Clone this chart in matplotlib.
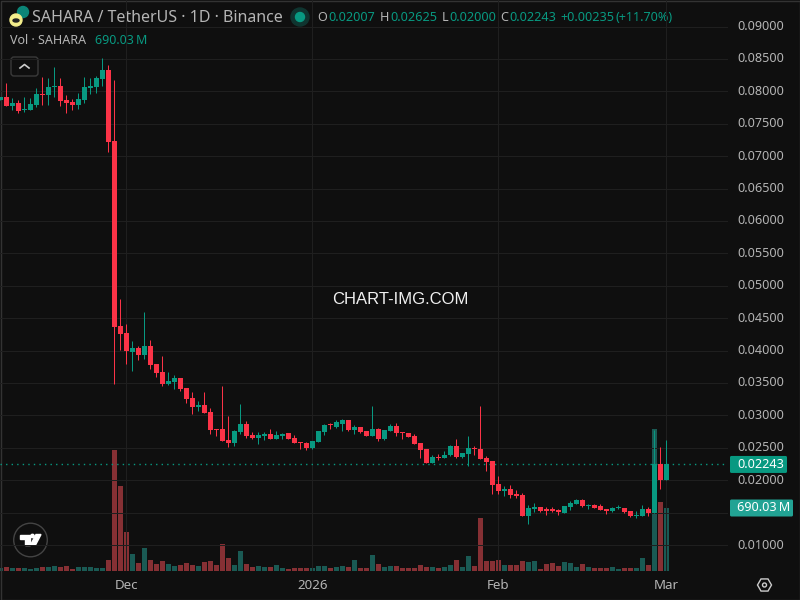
import matplotlib
matplotlib.use('Agg')
import matplotlib.pyplot as plt
from matplotlib.patches import Circle, Ellipse, FancyBboxPatch, Polygon, Rectangle, RegularPolygon
import numpy as np
import pandas as pd

plt.rcParams['font.family'] = ['Noto Sans', 'DejaVu Sans']

# daily candles, 10 Nov 2025 to 1 Mar 2026
dates = pd.date_range('2025-11-10', periods=112)

opens = [
    .07866, .07913, .07774, .07820, .07712, .07712, .07789, .07959, .07944, .08067, .08082, .07866, .07835, .07789,
    .07866, .08052, .08067, .08190, .08329, .07234, .04379, .04271, .03978, .04040, .03932, .04071, .03793, .03669,
    .03484, .03515, .03577, .03423, .03268, .03129, .03160, .03052, .02790, .02790, .02620, .02574, .02744, .02867,
    .02697, .02651, .02682, .02713, .02636, .02682, .02728, .02651, .02589, .02574, .02497, .02589, .02744, .02867,
    .02821, .02867, .02929, .02774, .02821, .02759, .02682, .02790, .02636, .02759, .02836, .02744, .02728, .02682,
    .02574, .02481, .02265, .02358, .02342, .02389, .02528, .02358, .02404, .02497, .02481, .02342, .02296, .01941,
    .01833, .01864, .01787, .01772, .01447, .01555, .01586, .01555, .01555, .01540, .01494, .01586, .01633, .01694,
    .01602, .01617, .01602, .01555, .01525, .01571, .01571, .01525, .01447, .01447, .01555, .01494, .02250, .02007,
]
highs = [
    .07913, .08129, .07897, .07866, .07913, .07897, .08052, .08221, .08206, .08376, .08206, .07944, .07882, .07974,
    .08221, .08206, .08237, .08514, .08406, .08175, .04796, .04410, .04148, .04071, .04595, .04163, .03793, .03916,
    .03669, .03623, .03577, .03423, .03361, .03222, .03361, .03114, .02790, .03453, .02990, .02774, .03176, .02913,
    .02744, .02744, .02744, .02790, .02759, .02728, .02728, .02697, .02589, .02589, .02605, .02759, .02867, .02882,
    .02929, .02944, .02929, .02852, .02821, .02759, .03145, .02805, .02774, .02867, .02882, .02744, .02728, .02713,
    .02574, .02481, .02389, .02404, .02450, .02543, .02636, .02420, .02682, .02528, .03145, .02373, .02296, .02065,
    .01910, .01926, .01849, .01802, .01617, .01648, .01586, .01586, .01586, .01555, .01602, .01679, .01710, .01710,
    .01633, .01633, .01633, .01555, .01586, .01617, .01571, .01525, .01525, .01617, .01586, .02774, .02512, .02625,
]
lows = [
    .07866, .07774, .07712, .07666, .07681, .07712, .07758, .07789, .07789, .07913, .07774, .07666, .07712, .07727,
    .07820, .07959, .07974, .08082, .07064, .03484, .04009, .03793, .03685, .03855, .03870, .03716, .03592, .03453,
    .03469, .03407, .03376, .03191, .03021, .03068, .03037, .02713, .02682, .02605, .02512, .02528, .02713, .02651,
    .02636, .02558, .02620, .02636, .02636, .02636, .02636, .02574, .02481, .02466, .02481, .02589, .02697, .02790,
    .02805, .02759, .02759, .02713, .02728, .02682, .02682, .02605, .02620, .02759, .02682, .02636, .02666, .02558,
    .02342, .02265, .02265, .02312, .02342, .02373, .02342, .02342, .02219, .02389, .02327, .02142, .01787, .01787,
    .01756, .01725, .01725, .01447, .01324, .01509, .01509, .01463, .01509, .01463, .01494, .01540, .01633, .01586,
    .01555, .01571, .01540, .01478, .01509, .01555, .01494, .01432, .01417, .01447, .01447, .01494, .01864, .02000,
]
closes = [
    .07913, .07774, .07820, .07697, .07727, .07805, .07959, .07944, .08067, .08082, .07851, .07820, .07789, .07882,
    .08067, .08082, .08206, .08329, .07218, .04364, .04256, .03993, .04040, .03932, .04071, .03777, .03654, .03484,
    .03531, .03577, .03407, .03253, .03129, .03160, .03037, .02774, .02774, .02605, .02574, .02759, .02867, .02682,
    .02651, .02697, .02713, .02636, .02697, .02713, .02636, .02574, .02574, .02497, .02605, .02759, .02852, .02852,
    .02898, .02929, .02774, .02821, .02744, .02682, .02790, .02636, .02774, .02836, .02728, .02728, .02666, .02558,
    .02466, .02265, .02358, .02342, .02389, .02528, .02358, .02420, .02497, .02481, .02327, .02281, .01926, .01833,
    .01864, .01772, .01756, .01447, .01571, .01586, .01525, .01525, .01525, .01509, .01602, .01648, .01694, .01602,
    .01617, .01571, .01540, .01525, .01571, .01586, .01509, .01447, .01463, .01555, .01494, .02250, .02003, .02243,
]
# volume in millions of SAHARA
volumes = [
    33, 44, 33, 33, 33, 22, 33, 44, 44, 55, 44, 55, 22, 44, 44, 44, 33, 33,
    120, 1325, 931, 427, 186, 88, 252, 120, 77, 110, 77, 55, 66, 88, 66, 55, 99, 110, 66, 296, 142, 66, 219, 77, 44, 55, 44,
    44, 66, 33, 22, 33, 33, 33, 33, 55, 55, 33, 44, 55, 44, 120, 33, 33, 175, 77, 44, 55, 55, 33, 33, 33, 66, 44, 44,
    33, 44, 66, 120, 44, 164, 55, 580, 110, 110, 120, 66, 66, 66, 110, 99, 110,
    22, 77, 88, 55, 99, 88, 44, 77, 44, 33, 33, 33, 44, 22, 33, 33, 33, 142, 66, 1555, 756, 690.03,
]

price_ticks = [.01, .015, .02, .025, .03, .035, .04, .045, .05, .055, .06, .065, .07, .075, .08, .085, .09]
month_ticks = ['2025-12-01', '2026-01-01', '2026-02-01', '2026-03-01']
month_labels = ['Dec', '2026', 'Feb', 'Mar']
last_price = 0.02243
last_volume = 690.03

BG = '#0f0f0f'
GRID = '#1f1f1f'
UP = '#089981'
DOWN = '#fb3347'
VOL_UP = '#26a69a'
VOL_DOWN = '#fd5159'
TEXT = '#b4b4b4'

x = np.arange(len(dates))
o = np.array(opens)
h = np.array(highs)
l = np.array(lows)
c = np.array(closes)
up = c >= o

fig = plt.figure(figsize=(8, 6), dpi=100, facecolor=BG)
# pane is 728 px wide and 571 px high, one candle every 6 px
ax = fig.add_axes([0, 29 / 600, 728 / 800, 571 / 600])
vol = ax.twinx()
ax.set_zorder(vol.get_zorder() + 1)
ax.patch.set_visible(False)
vol.set_facecolor(BG)

vol.bar(x[up], np.array(volumes)[up], width=0.9, color=VOL_UP, alpha=0.5, linewidth=0)
vol.bar(x[~up], np.array(volumes)[~up], width=0.9, color=VOL_DOWN, alpha=0.5, linewidth=0)
vol.set_ylim(0, 6254)
vol.set_yticks([])

colors = np.where(up, UP, DOWN)
ax.vlines(x, l, h, colors=colors, linewidth=0.72, zorder=3)
ax.bar(x, np.maximum(np.abs(c - o), 0.00015), bottom=np.minimum(o, c), width=0.9, color=colors, linewidth=0, zorder=4)
ax.axhline(last_price, color=UP, linewidth=1, linestyle=(0, (1, 3)), zorder=2)

ax.set_xlim(-0.0833, 121.25)
ax.set_ylim(0.00599, 0.09409)
ax.yaxis.tick_right()
ax.set_yticks(price_ticks)
# the 0.015 label sits behind the volume tag in the original
ax.set_yticklabels(['' if p == .015 else '%.5f' % p for p in price_ticks], fontsize=9.1, color=TEXT, va='center')
month_pos = [dates.get_loc(pd.Timestamp(d)) for d in month_ticks]
ax.set_xticks(month_pos)
ax.set_xticklabels(month_labels, fontsize=9.6, color=TEXT)
ax.get_xticklabels()[1].set_fontweight('bold')
ax.tick_params(axis='y', length=0, pad=6.5)
ax.tick_params(axis='x', length=0, pad=6)
ax.grid(True, color=GRID, linewidth=0.72)
ax.set_axisbelow(True)
for a in (ax, vol):
    for s in a.spines.values():
        s.set_visible(False)

# header, tags and logo in pixel coordinates
ov = fig.add_axes([0, 0, 1, 1], facecolor='none')
ov.set_xlim(0, 800)
ov.set_ylim(600, 0)
ov.axis('off')
ov.add_patch(Rectangle((0.5, 0.5), 799, 599, fill=False, edgecolor='#333333', linewidth=1))

ov.add_patch(Circle((23, 12), 5.5, color='#0b8577'))
ov.add_patch(Circle((16, 20), 6, color='#f4ee8c'))
ov.add_patch(Ellipse((16, 20.5), 6, 3, color='#222222'))
ov.text(32, 17.5, 'SAHARA / TetherUS · 1D · Binance', fontsize=11.5, color=TEXT, va='center')
ov.add_patch(Circle((300, 17), 9, color='#0f3530'))
ov.add_patch(Circle((300, 17), 4.5, color=UP))

for label, lx, val, vx in [('O', 317.5, '0.02007', 328.3), ('H', 380, '0.02625', 390.7),
                           ('L', 441.7, '0.02000', 449.3), ('C', 500.7, '0.02243', 509.3)]:
    ov.text(lx, 17.5, label, fontsize=9.1, color=TEXT, va='center')
    ov.text(vx, 17.5, val, fontsize=9.1, color=UP, va='center')
ov.text(560.7, 17.5, '+0.00235', fontsize=9.1, color=UP, va='center')
ov.text(615, 17.5, '(+11.70%)', fontsize=9.1, color=UP, va='center')

ov.text(10, 41, 'Vol · SAHARA', fontsize=9, color=TEXT, va='center')
ov.text(95, 41, '690.03\u2009M', fontsize=9, color=UP, va='center')

ov.add_patch(FancyBboxPatch((11, 57), 27, 19, boxstyle='round,pad=0,rounding_size=3',
                            facecolor='none', edgecolor='#3a3a3a', linewidth=1))
ov.plot([20, 24.5, 29], [68, 64.5, 68], color='#cccccc', linewidth=1.2)

ov.text(400, 300, 'CHART-IMG.COM', fontsize=12, color='#f0f0f0', family='Liberation Sans', ha='center', va='center')

ov.add_patch(Circle((30.5, 540), 16.8, facecolor=BG, edgecolor='#444444', linewidth=1))
ov.add_patch(Polygon([(20, 534.5), (29.5, 534.5), (29.5, 545), (24.7, 545), (24.7, 538.5), (20, 538.5)], color='white'))
ov.add_patch(Circle((32.5, 536), 1.7, color='white'))
ov.add_patch(Polygon([(36, 534.5), (41, 534.5), (35.5, 545), (30.5, 545)], color='white'))

# last price and volume tags
price_px = 600 - ax.transData.transform((0, last_price))[1]
vol_px = 600 - vol.transData.transform((0, last_volume))[1]
ov.add_patch(FancyBboxPatch((730, price_px - 8.5), 57, 17, boxstyle='round,pad=0,rounding_size=1.5',
                            facecolor=UP, edgecolor='none', zorder=3))
ov.text(737, price_px, '%.5f' % last_price, fontsize=9.1, color='white', va='center', zorder=4)
ov.add_patch(FancyBboxPatch((730, vol_px - 8.5), 63, 17, boxstyle='round,pad=0,rounding_size=1.5',
                            facecolor='#22a394', edgecolor='none', zorder=3))
ov.text(737, vol_px, '%.2f\u2009M' % last_volume, fontsize=9.1, color='white', va='center', zorder=4)

ov.add_patch(RegularPolygon((764.5, 585), 6, radius=7, orientation=np.pi / 6, fill=False, edgecolor='#cccccc', linewidth=1))
ov.add_patch(Circle((764.5, 585), 2, fill=False, edgecolor='#cccccc', linewidth=1))

fig.savefig('out.png', dpi=100, facecolor=BG)
